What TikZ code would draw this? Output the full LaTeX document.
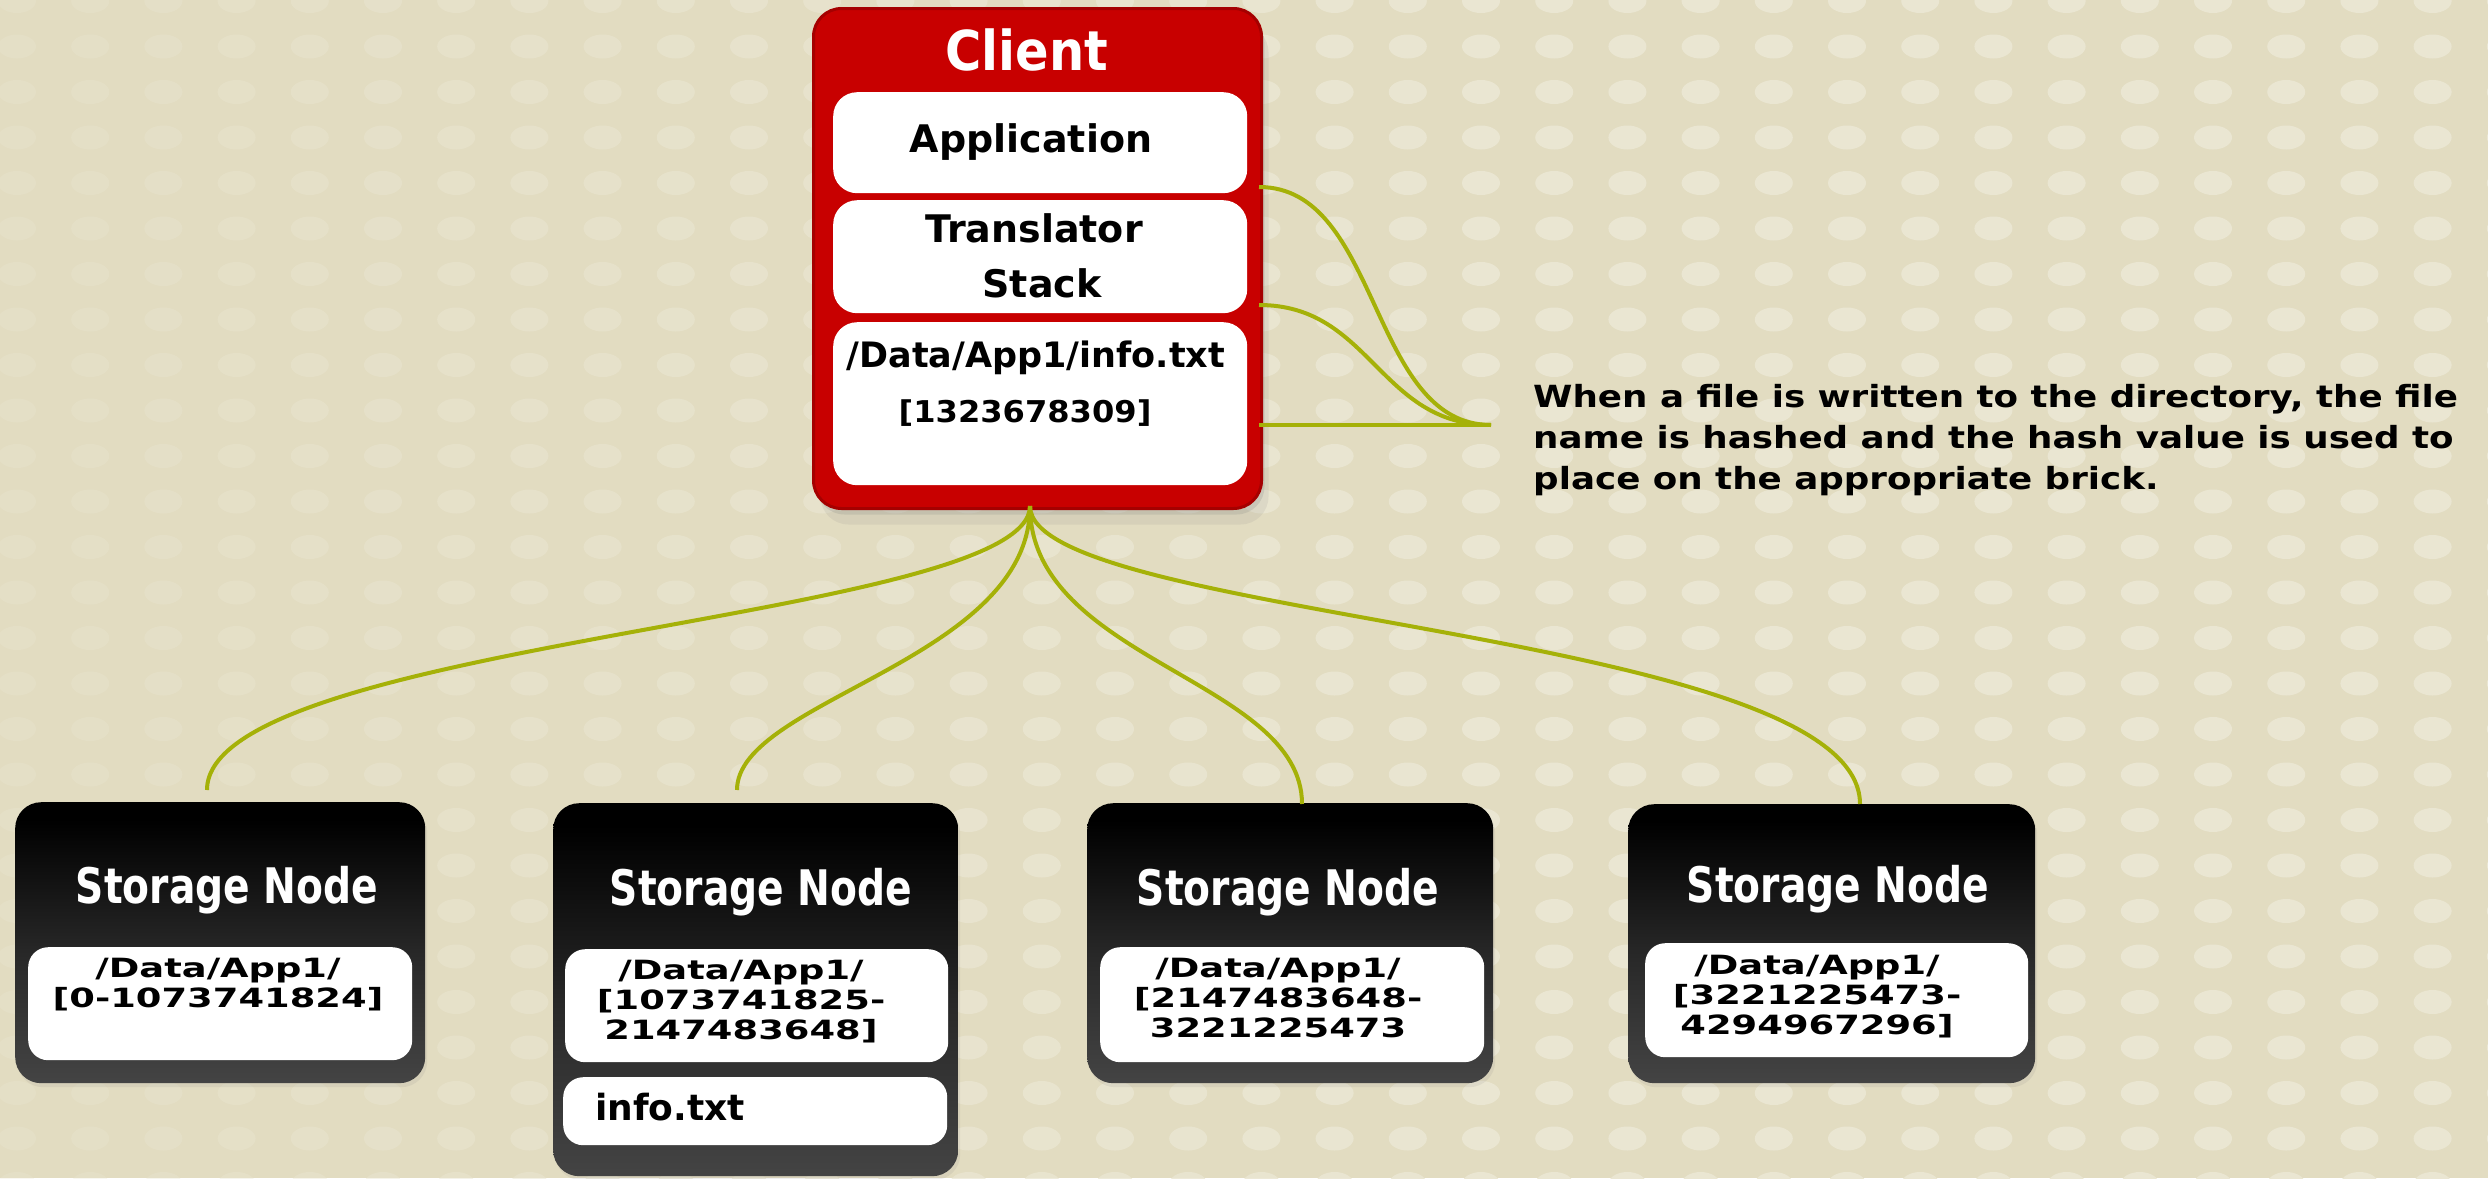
\documentclass[tikz,border=0pt]{standalone}
\usepackage{fontspec}
\setmainfont{DejaVu Sans}
\newfontfamily\fA{DejaVu Sans}
\newfontfamily\fCl{DejaVu Sans}[FakeStretch=0.9]
\newfontfamily\fSN{DejaVu Sans}[FakeStretch=0.8]
\newfontfamily\fRg{DejaVu Sans}[FakeStretch=1.39]
\newfontfamily\fHs{DejaVu Sans}[FakeStretch=1.07]
\newfontfamily\fNt{DejaVu Sans}[FakeStretch=1.17]
\usetikzlibrary{shadows}
\definecolor{bgcol}{RGB}{226,220,193}
\definecolor{dotcol}{RGB}{234,230,210}
\definecolor{clred}{RGB}{200,0,0}
\definecolor{clredd}{RGB}{165,0,0}
\definecolor{wirecol}{RGB}{165,177,8}
\definecolor{snbot}{RGB}{98,98,98}
\definecolor{snmid}{RGB}{40,40,40}
\pgfdeclareverticalshading{snshade}{100bp}{color(0bp)=(snbot); color(48bp)=(snmid); color(72bp)=(black); color(100bp)=(black)}
\tikzset{
  outerbox/.style={draw=clredd, line width=3pt, fill=clred, rounded corners=28pt, anchor=north west, inner sep=0pt,
    drop shadow={shadow xshift=3pt, shadow yshift=-6pt, opacity=0.2},
    drop shadow={shadow xshift=7pt, shadow yshift=-16pt, opacity=0.12}},
  whitebox/.style={fill=white, rounded corners=24pt, anchor=north west, inner sep=0pt},
  snbox/.style={shading=snshade, rounded corners=26pt, anchor=north west, inner sep=0pt,
    drop shadow={shadow xshift=2pt, shadow yshift=-4pt, opacity=0.12}},
  snwhite/.style={fill=white, rounded corners=20pt, anchor=north west, inner sep=0pt},
  wire/.style={draw=wirecol, line width=4pt},
  sntitle/.style={text=white, anchor=base, inner sep=0pt, font=\fSN\bfseries\fontsize{49}{54}\selectfont},
  rangetxt/.style={anchor=north, inner sep=0pt, align=center, font=\fRg\bfseries\fontsize{26.5}{30}\selectfont},
  cltxt/.style={anchor=base, inner sep=0pt, font=\fA\bfseries\fontsize{38}{44}\selectfont}
}
\begin{document}
\begin{tikzpicture}[x=1pt,y=-1pt]
% background
\fill[bgcol] (0,0) rectangle (2488,1178);
\useasboundingbox (0,0) rectangle (2488,1178);
\foreach \i in {0,...,34}{
  \pgfmathsetmacro{\dop}{min(1,0.3+\i/28)}
  \foreach \j in {0,...,26}{
    \fill[dotcol, opacity=\dop] (17+73.2*\i,1+45.5*\j) ellipse [x radius=19, y radius=12];
  }
}
% client box
\node[outerbox, minimum width=448pt, minimum height=500pt] (client) at (812,7) {};
\node[text=white, anchor=base, inner sep=0pt, font=\fCl\bfseries\fontsize{55}{60}\selectfont] (cltitle) at (1027,70) {Client};
\node[whitebox, minimum width=414pt, minimum height=101pt] (app) at (833,92) {};
\node[whitebox, minimum width=414pt, minimum height=113pt] (trans) at (833,200) {};
\node[whitebox, minimum width=414pt, minimum height=163pt] (info) at (833,322) {};
\node[cltxt] (apptxt) at (1031,152) {Application};
\node[cltxt] (transtxt) at (1034,242) {Translator};
\node[cltxt] (stacktxt) at (1042,297) {Stack};
\node[anchor=base, inner sep=0pt, font=\fA\bfseries\fontsize{35}{40}\selectfont] (pathtxt) at (1036,367) {/Data/App1/info.txt};
\node[anchor=base, inner sep=0pt, font=\fHs\bfseries\fontsize{30}{36}\selectfont] (hashtxt) at (1025,422) {[1323678309]};
% storage nodes
\node[snbox, minimum width=410pt, minimum height=281pt] (sn1) at (15,802) {};
\node[snbox, minimum width=405pt, minimum height=373pt] (sn2) at (553,803) {};
\node[snbox, minimum width=406pt, minimum height=280pt] (sn3) at (1087,803) {};
\node[snbox, minimum width=407pt, minimum height=279pt] (sn4) at (1628,804) {};
\node[sntitle] (sn1t) at (227,903) {Storage Node};
\node[sntitle] (sn2t) at (761,905) {Storage Node};
\node[sntitle] (sn3t) at (1288,905) {Storage Node};
\node[sntitle] (sn4t) at (1838,902) {Storage Node};
\node[snwhite, minimum width=384pt, minimum height=113pt] (w1) at (28,947) {};
\node[snwhite, minimum width=383pt, minimum height=113pt] (w2) at (565,949) {};
\node[snwhite, minimum width=384pt, minimum height=68pt] (w2b) at (563,1077) {};
\node[snwhite, minimum width=384pt, minimum height=115pt] (w3) at (1100,947) {};
\node[snwhite, minimum width=383pt, minimum height=114pt] (w4) at (1645,943) {};
\node[rangetxt] (r1txt) at (218,958) {/Data/App1/\\{}[0-1073741824]};
\node[rangetxt] (r2txt) at (741,960) {/Data/App1/\\{}[1073741825-\\2147483648]};
\node[rangetxt] (r3txt) at (1278,958) {/Data/App1/\\{}[2147483648-\\3221225473};
\node[rangetxt] (r4txt) at (1817,955) {/Data/App1/\\{}[3221225473-\\4294967296]};
\node[anchor=base west, inner sep=0pt, font=\fA\bfseries\fontsize{36}{40}\selectfont] (infofile) at (595,1120) {info.txt};
% annotation
\node[anchor=north west, inner sep=0pt, align=left, font=\fNt\bfseries\fontsize{30.5}{41}\selectfont] (note) at (1533,384)
  {When a file is written to the directory, the file\\name is hashed and the hash value is used to\\place on the appropriate brick.};
% connector coordinates
\coordinate (hub) at (1030,506);
\coordinate (t1) at (207,790);
\coordinate (t2) at (737,790);
\coordinate (t3) at (1302,804);
\coordinate (t4) at (1860,804);
\coordinate (e1) at (1259,187);
\coordinate (e2) at (1259,305);
\coordinate (e3) at (1259,425);
\coordinate (join) at (1491,425);
% connectors to storage nodes
\draw[wire] (hub) .. controls +(0,114) and +(0,-150) .. (t1);
\draw[wire] (hub) .. controls +(0,154) and +(0,-90) .. (t2);
\draw[wire] (hub) .. controls +(0,154) and +(0,-124) .. (t3);
\draw[wire] (hub) .. controls +(0,114) and +(0,-174) .. (t4);
% connectors to annotation
\draw[wire] (e1) .. controls +(122,0) and +(-122,0) .. (join);
\draw[wire] (e2) .. controls +(112,0) and +(-112,0) .. (join);
\draw[wire] (e3) -- (join);
\end{tikzpicture}
\end{document}
